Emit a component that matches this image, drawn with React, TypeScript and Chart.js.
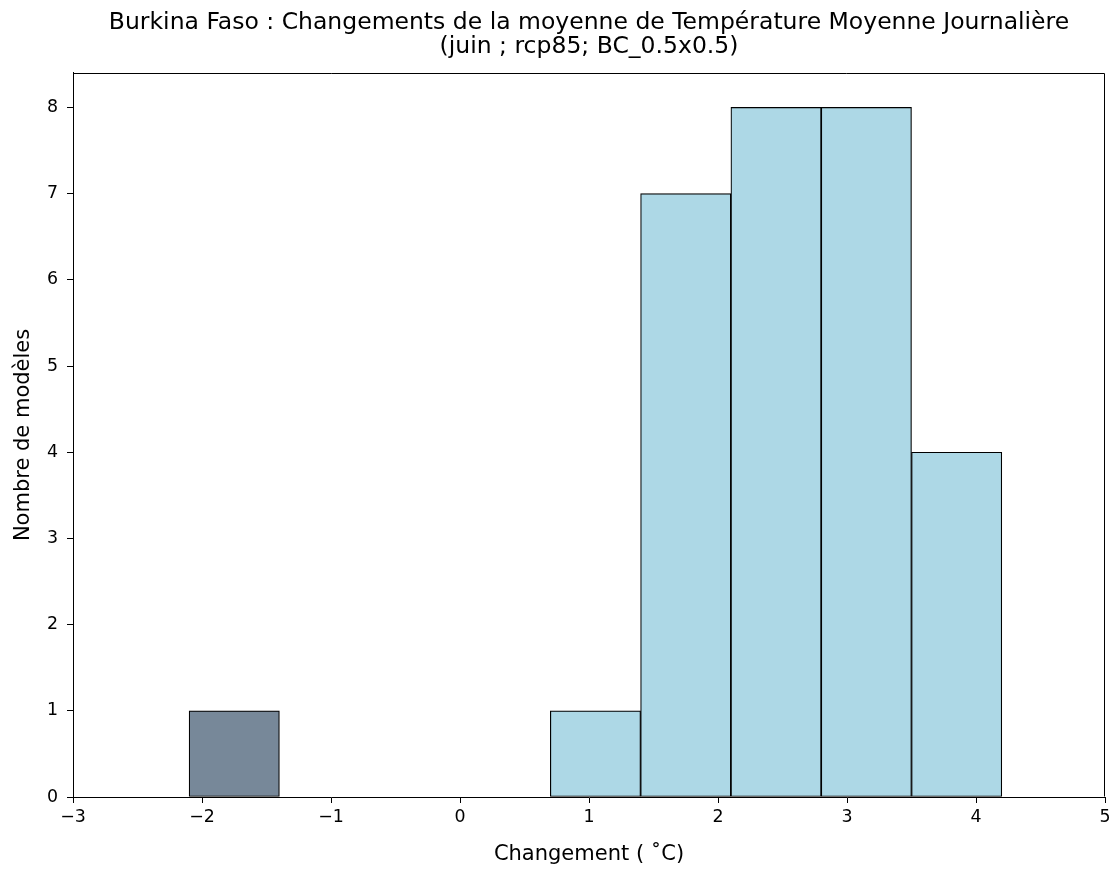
import React, { useEffect, useRef } from "react";
import { Chart, registerables } from "chart.js";

Chart.register(...registerables);

// Histogram bins (left edges), bin width and counts
const binLeftEdges = [-2.1, 0.7, 1.4, 2.1, 2.8, 3.5];
const binWidth = 0.7;
const modelCounts = [1, 1, 7, 8, 8, 4];
const barColors = ["#778899", "#ADD8E6", "#ADD8E6", "#ADD8E6", "#ADD8E6", "#ADD8E6"];

const xMin = -3;
const xMax = 5;
const yMin = 0;
const yMax = 8.4;

const titleLines = [
  "Burkina Faso : Changements de la moyenne de Température Moyenne Journalière",
  "(juin ; rcp85; BC_0.5x0.5)",
];
const xLabel = "Changement ( ˚C)";
const yLabel = "Nombre de modèles";

const FONT = "'DejaVu Sans', sans-serif";

const frameBox = {
  id: "frameBox",
  afterDatasetsDraw(chart: any) {
    const { ctx, chartArea } = chart;
    const l = Math.round(chartArea.left) + 0.5;
    const r = Math.round(chartArea.right) - 0.5;
    const t = Math.round(chartArea.top) + 0.5;
    const b = Math.round(chartArea.bottom) - 0.5;
    ctx.save();
    ctx.strokeStyle = "#000";
    ctx.lineWidth = 1;
    ctx.beginPath();
    ctx.moveTo(l, t);
    ctx.lineTo(r, t);
    ctx.lineTo(r, b);
    ctx.moveTo(l, t);
    ctx.lineTo(l, b);
    ctx.stroke();
    ctx.restore();
  },
};

export default function App() {
  const ref = useRef<HTMLCanvasElement | null>(null);

  useEffect(() => {
    if (!ref.current) return;
    const data = binLeftEdges.map((left, i) => ({ x: left + binWidth / 2, y: modelCounts[i] }));
    const chart = new Chart(ref.current, {
      type: "bar",
      data: {
        datasets: [
          {
            data: data as any,
            backgroundColor: barColors,
            borderColor: "#000",
            borderWidth: 1.2,
            borderSkipped: false,
            barPercentage: 1,
            categoryPercentage: 1,
          },
        ],
      },
      plugins: [frameBox],
      options: {
        responsive: false,
        animation: false,
        layout: { padding: { left: 0, right: 10, top: 0, bottom: 0 } },
        plugins: {
          legend: { display: false },
          tooltip: { enabled: false },
          title: {
            display: true,
            text: titleLines,
            fullSize: false,
            color: "#000",
            font: { family: FONT, size: 23.5, weight: "normal", lineHeight: 1.02 },
            padding: { top: 11, bottom: 14 },
          },
        },
        scales: {
          x: {
            type: "linear",
            min: xMin,
            max: xMax,
            offset: false,
            afterFit: (s: any) => {
              s.height = 72;
            },
            grid: {
              offset: false,
              display: true,
              drawOnChartArea: false,
              drawTicks: true,
              tickLength: 6,
              color: "#000",
            },
            border: { display: true, color: "#000", width: 1 },
            ticks: {
              stepSize: 1,
              padding: 4,
              color: "#000",
              font: { family: FONT, size: 17.4 },
              callback: (v: any) => String(v).replace("-", "\u2212"),
            },
            title: {
              display: true,
              text: xLabel,
              color: "#000",
              font: { family: FONT, size: 21 },
              padding: { top: 0, bottom: 2 },
            },
          },
          y: {
            min: yMin,
            max: yMax,
            afterFit: (s: any) => {
              s.width = 73;
            },
            grid: {
              display: true,
              drawOnChartArea: false,
              drawTicks: true,
              tickLength: 6,
              color: "#000",
            },
            border: { display: true, color: "#000", width: 1 },
            ticks: {
              stepSize: 1,
              includeBounds: false,
              padding: 9,
              color: "#000",
              font: { family: FONT, size: 17.4 },
            },
            title: {
              display: true,
              text: yLabel,
              color: "#000",
              font: { family: FONT, size: 21 },
              padding: { top: 11, bottom: 0 },
            },
          },
        },
      },
    });
    return () => chart.destroy();
  }, []);

  return (
    <div style={{ position: "absolute", left: 0, top: 0, width: 1115, height: 869, background: "#fff" }}>
      <canvas ref={ref} width={1115} height={869} />
    </div>
  );
}
